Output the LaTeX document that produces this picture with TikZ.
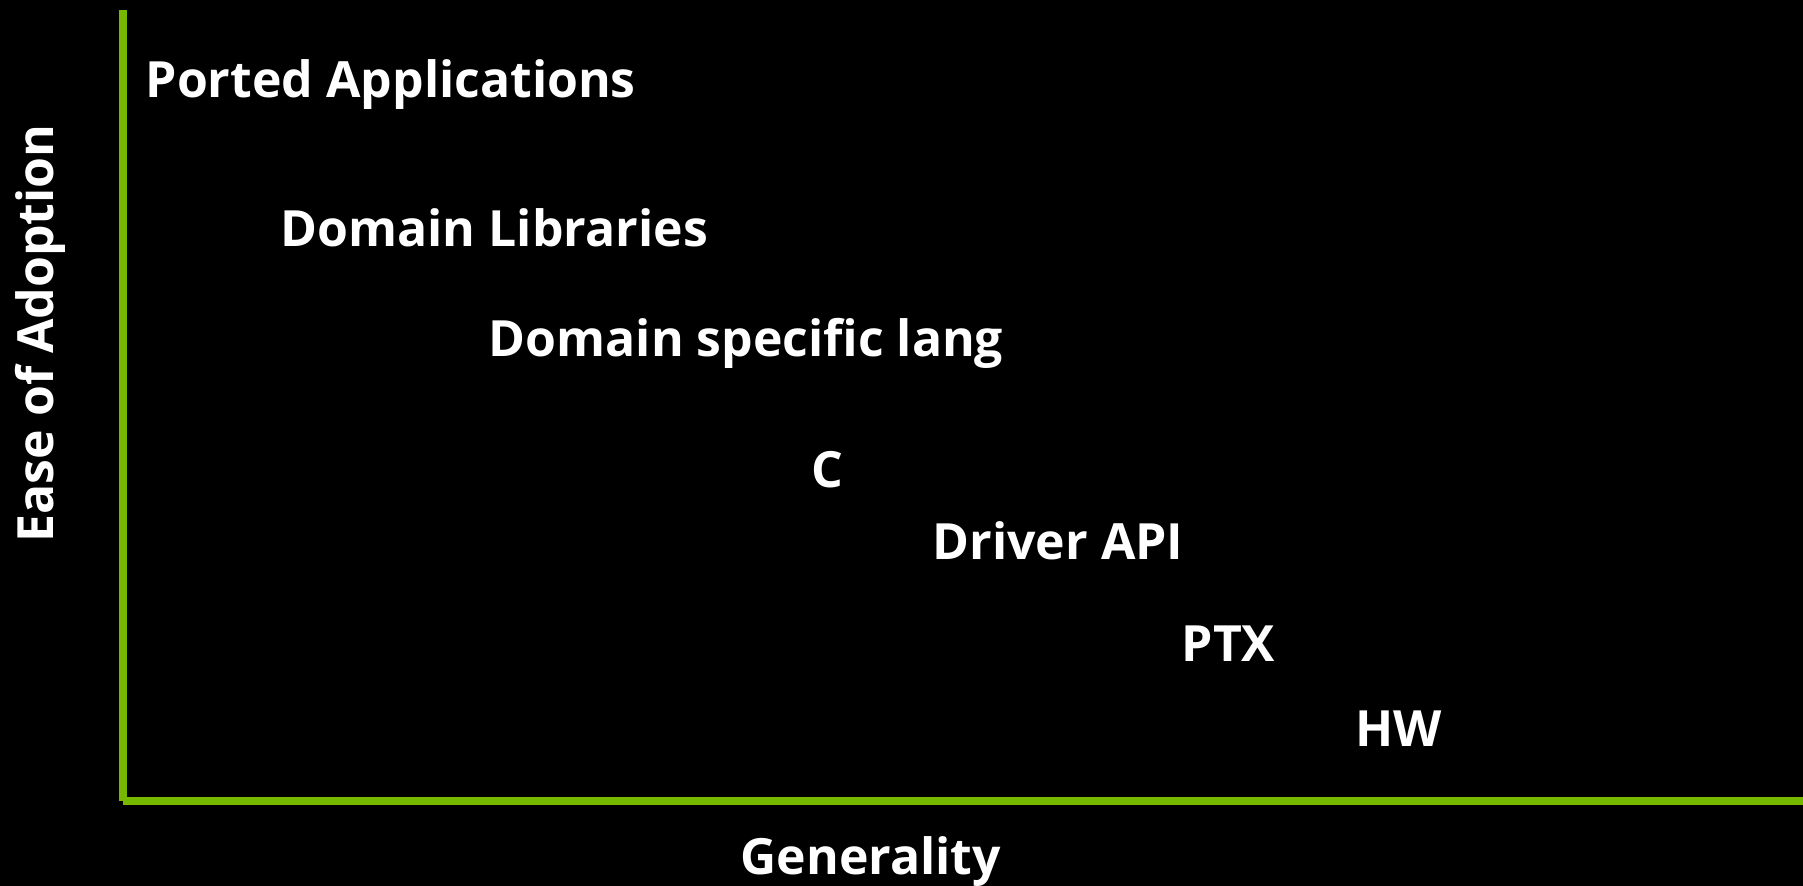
\documentclass[tikz,border=0pt]{standalone}
\usepackage{fontspec}
\setmainfont{Open Sans}
\definecolor{nvgreen}{HTML}{76B900}
\begin{document}
\begin{tikzpicture}[x=0.01cm,y=-0.01cm,
  lbl/.style={anchor=base west,inner sep=0pt,text=white,font=\fontsize{14.2}{17}\selectfont\bfseries},
  axis/.style={draw=nvgreen,line width=0.08cm}]
  % black canvas
  \fill[black] (0,0) rectangle (1803,886);
  \useasboundingbox (0,0) rectangle (1803,886);
  % axes
  \coordinate (ytop) at (123,10);
  \coordinate (ybot) at (123,801);
  \coordinate (xleft) at (123,801);
  \coordinate (xright) at (1803,801);
  \draw[axis] (ytop) -- (ybot);
  \draw[axis] (xleft) -- (xright);
  % levels of abstraction
  \node[lbl] (ported) at (145,98) {Ported Applications};
  \node[lbl] (domlib) at (280,247) {Domain Libraries};
  \node[lbl] (dsl) at (488,357) {Domain specific lang};
  \node[lbl] (c) at (811,488) {C};
  \node[lbl] (driver) at (932,560) {Driver API};
  \node[lbl] (ptx) at (1181,662) {PTX};
  \node[lbl] (hw) at (1355,747) {HW};
  % axis titles
  \node[lbl] (xtitle) at (740,875) {Generality};
  \node[lbl,rotate=90] (ytitle) at (53,543) {Ease of Adoption};
\end{tikzpicture}
\end{document}
